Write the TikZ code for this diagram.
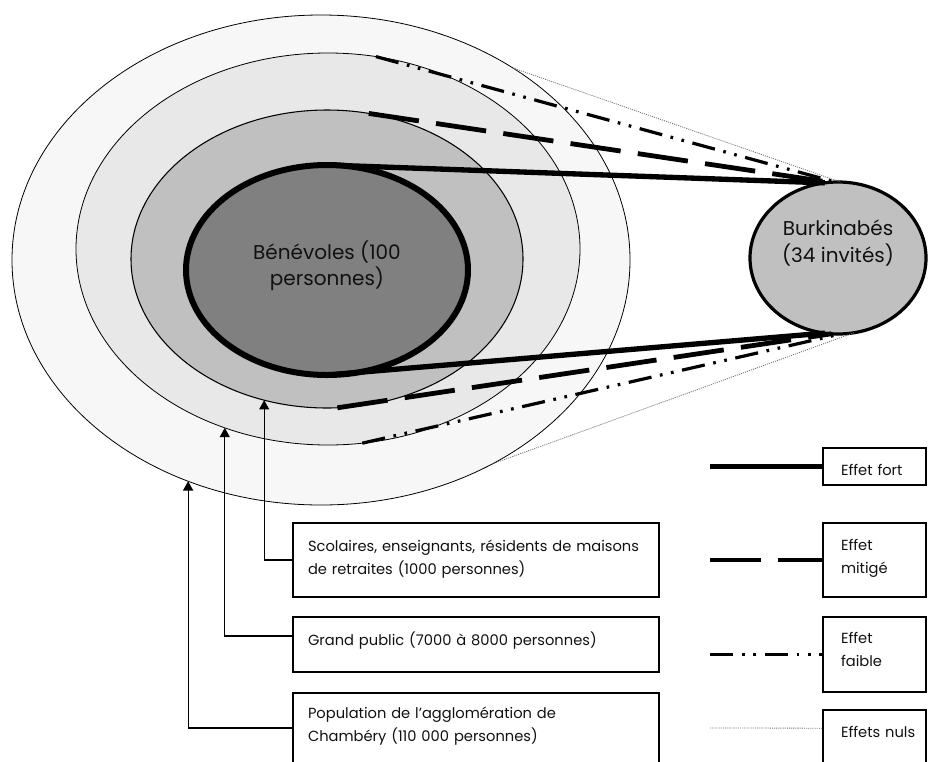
\documentclass[tikz,border=0pt]{standalone}
\usepackage{fontspec}
\setmainfont{Poppins}
\usepackage{xcolor}
\definecolor{textcolor}{HTML}{111111}
\definecolor{fond1}{HTML}{808080}
\definecolor{fond2}{HTML}{C0C0C0}
\definecolor{fond3}{HTML}{E8E8E8}
\definecolor{fond4}{HTML}{F7F7F7}
\definecolor{nulcolor}{HTML}{707070}
\usepackage{tikz}
\usetikzlibrary{arrows.meta,shapes.geometric}
\tikzset{
    anneau/.style={
        ellipse,
        draw=black,
        inner sep=0pt,
        outer sep=0pt,
        line width=0.6pt,
        text=textcolor,
        align=center,
        font=\fontsize{15}{19.5}\selectfont,
    },
    cadre/.style={
        rectangle,
        draw=black,
        line width=0.8pt,
        anchor=north west,
        align=left,
        text=textcolor,
        inner xsep=11.25pt,
        inner ysep=0pt,
        outer sep=0pt,
        text width=252pt,
        font=\fontsize{11}{17.25}\selectfont,
    },
    legende/.style={
        cadre,
        inner xsep=13.5pt,
        text width=50.25pt,
    },
    fort/.style={
        line width=4pt,
    },
    mitige/.style={
        line width=3.6pt,
        dash pattern=on 38pt off 13pt,
    },
    faible/.style={
        line width=2.4pt,
        dash pattern=on 17.5pt off 6.5pt on 2pt off 6.5pt on 2pt off 6.5pt,
    },
    nul/.style={
        line width=0.6pt,
        nulcolor,
        dash pattern=on 0.8pt off 0.8pt,
    },
    fleche/.style={
        -{Triangle[length=7pt,width=7.5pt]},
        line width=0.9pt,
    },
}

\begin{document}
\begin{tikzpicture}[x=0.75pt,y=-0.75pt]
    \useasboundingbox (0,0) rectangle (928,761);
    \clip (0,0) rectangle (928,761);

    % Cercles de public
    \node[anneau, fill=fond4, minimum width=463.5pt, minimum height=367.5pt] (e4) at (321,260) {};
    \node[anneau, fill=fond3, minimum width=378pt, minimum height=294pt] (e3) at (328,249) {};
    \node[anneau, fill=fond2, line width=0.8pt, minimum width=294pt, minimum height=223.5pt] (e2) at (327,259) {};
    \node[anneau, fill=fond1, line width=4.5pt, minimum width=211.5pt, minimum height=157.5pt,
          text depth=10pt] (e1) at (327,270) {
        B\'en\'evoles (100\\
        personnes)
    };

    % Invites
    \node[anneau, fill=fond2, line width=2.4pt, minimum width=132pt, minimum height=114pt,
          text depth=25pt, font=\fontsize{15}{20}\selectfont] (burk) at (838,258) {
        Burkinab\'es\\
        (34 invit\'es)
    };

    % Effets
    \draw[fort] (e1.north) -- (burk.100);
    \draw[fort] (e1.south) -- (burk.-100);
    \draw[mitige] (e2.74) -- (burk.96);
    \draw[mitige] (e2.-86) -- (burk.-95);
    \draw[faible] (e3.76) -- (burk.92);
    \draw[faible] (e3.-80) -- (burk.-88);
    \draw[nul] (e4.45) -- (burk.88);
    \draw[nul] (e4.-50) -- (burk.-78);

    % Publics
    \node[cadre, text height=21pt, text depth=34.5pt] (scol) at (293,523) {
        Scolaires, enseignants, r\'esidents de maisons\\
        de retraites (1000 personnes)
    };
    \node[cadre, text height=21pt, text depth=20.25pt] (gp) at (293,617) {
        Grand public (7000 \`a 8000 personnes)
    };
    \node[cadre, text height=18.75pt, text depth=33.75pt] (pop) at (293,693) {
        Population de l’agglom\'eration de\\
        Chamb\'ery (110 000 personnes)
    };

    \draw[fleche] (scol.west) -| (e2.-114);
    \draw[fleche] ([yshift=6.4pt]gp.west) -| (e3.-120);
    \draw[fleche] (pop.west) -| (e4.-121);

    % Legende
    \node[legende, text height=20.25pt, text depth=7.5pt] (lfort) at (823,448) {\mbox{Effet fort}};
    \node[legende, text height=20.25pt, text depth=35.25pt] (lmitige) at (823,523) {
        Effet\\
        mitig\'e
    };
    \node[legende, text height=19.5pt, text depth=36.75pt] (lfaible) at (823,617) {
        Effet\\
        faible
    };
    \node[legende, text height=20.25pt, text depth=25pt] (lnul) at (823,710) {\mbox{Effets nuls}};

    \coordinate (dfort) at (710,466.5);
    \coordinate (dmitige) at (710,560);
    \coordinate (dfaible) at (710,654.5);
    \coordinate (dnul) at (710,728);
    \draw[fort] (dfort) -- (lfort.west);
    \draw[mitige] (dmitige) -- (lmitige.west);
    \draw[faible] (dfaible) -- (lfaible.west);
    \draw[nul] (dnul) -- ([yshift=9pt]lnul.west);

\end{tikzpicture}
\end{document}
